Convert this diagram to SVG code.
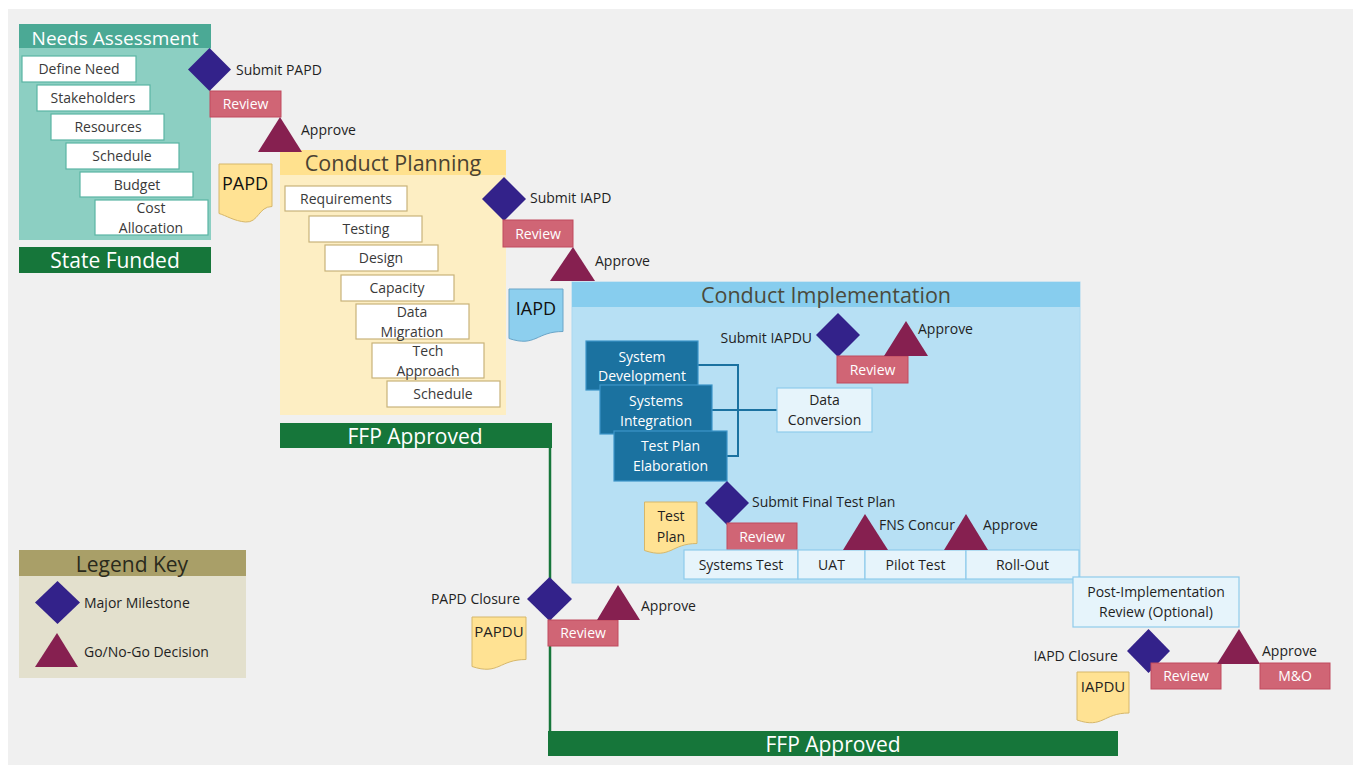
<svg xmlns="http://www.w3.org/2000/svg" width="1353" height="765" viewBox="0 0 1353 765">
  <style>
    text { font-family: "Open Sans", "Liberation Sans", sans-serif; }
    .lbl { font-size: 14px; fill: #1f1f1f; }
    .c { text-anchor: middle; }
    .r { text-anchor: end; }
    .title { font-size: 21px; }
    .ms { fill: #33228a; }
    .go { fill: #862050; }
    .review { fill: #d06575; stroke: #c04b5e; stroke-width: 1; }
    .revtxt { font-size: 14px; fill: #ffffff; text-anchor: middle; }
    .nbox { fill: #ffffff; stroke: #5ab5a3; stroke-width: 1.2; }
    .ntxt { font-size: 14px; fill: #3a3a3a; text-anchor: middle; }
    .pbox { fill: #ffffff; stroke: #c9b37a; stroke-width: 1.2; }
    .ptxt { font-size: 14px; fill: #3a3a3a; text-anchor: middle; }
    .dbox { fill: #1b72a0; stroke: #3d95c8; stroke-width: 1.2; }
    .dtxt { font-size: 14px; fill: #ffffff; text-anchor: middle; }
    .lbox { fill: #e6f4fb; stroke: #8fcbec; stroke-width: 1.2; }
    .green { fill: #16763a; }
    .gtxt { font-size: 21px; fill: #ffffff; text-anchor: middle; }
    .ydoc { fill: #ffe293; stroke: #d6b76a; stroke-width: 1; }
    .bdoc { fill: #8dcfee; stroke: #6aa5c8; stroke-width: 1; }
    .doctxt { font-size: 18px; fill: #111111; text-anchor: middle; }
    .link { fill: none; stroke: #1b72a0; stroke-width: 2; }
  </style>

  <!-- canvas -->
  <rect x="8" y="9" width="1345" height="756" fill="#f0f0f0"/>

  <!-- Needs Assessment phase -->
  <g id="needs-assessment">
    <rect x="19" y="24" width="192" height="216" fill="#8ccfc2"/>
    <rect x="19" y="24" width="192" height="24" fill="#4ba995"/>
    <text x="115" y="45" class="c" style="font-size:19px;fill:#ffffff">Needs Assessment</text>
    <rect class="nbox" x="22" y="56" width="114" height="26"/>
    <text class="ntxt" x="79" y="74">Define Need</text>
    <rect class="nbox" x="37" y="85" width="113" height="26"/>
    <text class="ntxt" x="93" y="103">Stakeholders</text>
    <rect class="nbox" x="51" y="114" width="113" height="26"/>
    <text class="ntxt" x="108" y="132">Resources</text>
    <rect class="nbox" x="66" y="143" width="113" height="26"/>
    <text class="ntxt" x="122" y="161">Schedule</text>
    <rect class="nbox" x="80" y="172" width="113" height="25"/>
    <text class="ntxt" x="137" y="190">Budget</text>
    <rect class="nbox" x="95" y="200" width="113" height="35"/>
    <text class="ntxt" x="151" y="213">Cost</text>
    <text class="ntxt" x="151" y="233">Allocation</text>
  </g>
  <g id="state-funded">
    <rect class="green" x="19" y="247" width="192" height="26"/>
    <text class="gtxt" x="115" y="268">State Funded</text>
  </g>

  <!-- Conduct Planning phase -->
  <g id="conduct-planning">
    <rect x="280" y="150" width="226" height="265" fill="#fdeec3"/>
    <rect x="280" y="150" width="226" height="25" fill="#ffe18e"/>
    <text x="393" y="171" class="c" style="font-size:21.5px;fill:#4a4232">Conduct Planning</text>
    <rect class="pbox" x="285" y="186" width="122" height="25"/>
    <text class="ptxt" x="346" y="204">Requirements</text>
    <rect class="pbox" x="309" y="216" width="113" height="26"/>
    <text class="ptxt" x="366" y="234">Testing</text>
    <rect class="pbox" x="325" y="245" width="113" height="26"/>
    <text class="ptxt" x="381" y="263">Design</text>
    <rect class="pbox" x="341" y="275" width="113" height="26"/>
    <text class="ptxt" x="397" y="293">Capacity</text>
    <rect class="pbox" x="356" y="304" width="113" height="35"/>
    <text class="ptxt" x="412" y="317">Data</text>
    <text class="ptxt" x="412" y="337">Migration</text>
    <rect class="pbox" x="372" y="343" width="112" height="35"/>
    <text class="ptxt" x="428" y="356">Tech</text>
    <text class="ptxt" x="428" y="376">Approach</text>
    <rect class="pbox" x="387" y="381" width="113" height="26"/>
    <text class="ptxt" x="443" y="399">Schedule</text>
  </g>
  <g id="ffp-approved-planning">
    <rect class="green" x="280" y="423" width="272" height="25"/>
    <text class="gtxt" x="415" y="444">FFP Approved</text>
  </g>

  <!-- Conduct Implementation phase -->
  <g id="conduct-implementation">
    <rect x="572" y="282" width="508" height="301" fill="#b7e0f4" stroke="#a9d8f0" stroke-width="1"/>
    <rect x="572" y="282" width="508" height="25" fill="#87cdee"/>
    <text x="826" y="303" class="c" style="font-size:21.5px;fill:#4a4a3c">Conduct Implementation</text>
  </g>

  <!-- connectors -->
  <g id="connectors">
    <path d="M550 447 V731" fill="none" stroke="#16763a" stroke-width="2.5"/>
    <path class="link" d="M698 365 H738 V456 H727"/>
    <path class="link" d="M712 410 H777"/>
  </g>

  <!-- PAPD gate -->
  <g id="submit-papd">
    <polygon class="ms" points="209.5,48 231,69.5 209.5,91 188,69.5"/>
    <text class="lbl" x="236" y="75">Submit PAPD</text>
  </g>
  <g id="review-papd">
    <rect class="review" x="210" y="91" width="71" height="26"/>
    <text class="revtxt" x="245.5" y="109">Review</text>
  </g>
  <g id="approve-papd">
    <polygon class="go" points="280,117 302,152 258,152"/>
    <text class="lbl" x="301" y="135">Approve</text>
  </g>
  <g id="papd-doc">
    <path class="ydoc" d="M219 164 H272 V206.5 C258.5 206.5 258.5 223 245.5 222 C234 221 226 215.5 219 213.5 Z"/>
    <text class="doctxt" x="245" y="190">PAPD</text>
  </g>

  <!-- IAPD gate -->
  <g id="submit-iapd">
    <polygon class="ms" points="504,177 526,199 504,221 482,199"/>
    <text class="lbl" x="530" y="203">Submit IAPD</text>
  </g>
  <g id="review-iapd">
    <rect class="review" x="503" y="220" width="70" height="27"/>
    <text class="revtxt" x="538" y="239">Review</text>
  </g>
  <g id="approve-iapd">
    <polygon class="go" points="573,247 595,281 550,281"/>
    <text class="lbl" x="595" y="266">Approve</text>
  </g>
  <g id="iapd-doc">
    <path class="bdoc" d="M509 289 H563 V331.5 C536 331.5 536 347.5 509 338.5 Z"/>
    <text class="doctxt" x="536" y="315">IAPD</text>
  </g>

  <!-- implementation steps -->
  <g id="submit-iapdu">
    <polygon class="ms" points="838,313 860,335 838,357 816,335"/>
    <text class="lbl r" x="812" y="343">Submit IAPDU</text>
  </g>
  <g id="review-iapdu">
    <rect class="review" x="837" y="356" width="71" height="27"/>
    <text class="revtxt" x="872.5" y="375">Review</text>
  </g>
  <g id="approve-iapdu">
    <polygon class="go" points="906,321 928,356 884,356"/>
    <text class="lbl" x="918" y="334">Approve</text>
  </g>
  <g id="system-development">
    <rect class="dbox" x="586" y="341" width="112" height="49"/>
    <text class="dtxt" x="642" y="362">System</text>
    <text class="dtxt" x="642" y="381">Development</text>
  </g>
  <g id="systems-integration">
    <rect class="dbox" x="600" y="385" width="112" height="49"/>
    <text class="dtxt" x="656" y="406">Systems</text>
    <text class="dtxt" x="656" y="426">Integration</text>
  </g>
  <g id="test-plan-elaboration">
    <rect class="dbox" x="614" y="431" width="113" height="50"/>
    <text class="dtxt" x="670.5" y="451">Test Plan</text>
    <text class="dtxt" x="670.5" y="471">Elaboration</text>
  </g>
  <g id="data-conversion">
    <rect class="lbox" x="777" y="388" width="95" height="44"/>
    <text class="lbl c" x="824.5" y="405">Data</text>
    <text class="lbl c" x="824.5" y="425">Conversion</text>
  </g>
  <g id="submit-final-test-plan">
    <polygon class="ms" points="727,481 749,503 727,525 705,503"/>
    <text class="lbl" x="752" y="507">Submit Final Test Plan</text>
  </g>
  <g id="test-plan-doc">
    <path class="ydoc" d="M644.5 502 H697 V543.5 C671 543.5 671 559.5 644.5 550.5 Z"/>
    <text class="lbl c" x="671" y="521">Test</text>
    <text class="lbl c" x="671" y="542">Plan</text>
  </g>
  <g id="review-test-plan">
    <rect class="review" x="727" y="523" width="70" height="27"/>
    <text class="revtxt" x="762" y="542">Review</text>
  </g>
  <g id="test-stages">
    <rect class="lbox" x="684" y="550" width="114" height="29"/>
    <text class="lbl c" x="741" y="570">Systems Test</text>
    <rect class="lbox" x="798" y="550" width="67" height="29"/>
    <text class="lbl c" x="831.5" y="570">UAT</text>
    <rect class="lbox" x="865" y="550" width="101" height="29"/>
    <text class="lbl c" x="915.5" y="570">Pilot Test</text>
    <rect class="lbox" x="966" y="550" width="113" height="29"/>
    <text class="lbl c" x="1022.5" y="570">Roll-Out</text>
  </g>
  <g id="fns-concur">
    <polygon class="go" points="865,514 888,550 843,550"/>
    <text class="lbl" x="879" y="530">FNS Concur</text>
  </g>
  <g id="approve-rollout">
    <polygon class="go" points="966,514 988,550 944,550"/>
    <text class="lbl" x="983" y="530">Approve</text>
  </g>

  <!-- PAPD closure -->
  <g id="papd-closure">
    <polygon class="ms" points="549.5,577 572,599 549.5,621 527,599"/>
    <text class="lbl r" x="520" y="604">PAPD Closure</text>
  </g>
  <g id="review-papdu">
    <rect class="review" x="548" y="620" width="70" height="26"/>
    <text class="revtxt" x="583" y="638">Review</text>
  </g>
  <g id="approve-papdu">
    <polygon class="go" points="618,585 640,620 597,620"/>
    <text class="lbl" x="641" y="611">Approve</text>
  </g>
  <g id="papdu-doc">
    <path class="ydoc" d="M472 617 H526 V659.5 C499 659.5 499 675.5 472 666.5 Z"/>
    <text class="lbl c" x="499" y="637" style="font-size:15px">PAPDU</text>
  </g>
  <g id="ffp-approved-implementation">
    <rect class="green" x="548" y="731" width="570" height="25"/>
    <text class="gtxt" x="833" y="752">FFP Approved</text>
  </g>

  <!-- Post-implementation and IAPD closure -->
  <g id="post-implementation-review">
    <rect class="lbox" x="1073" y="577" width="166" height="50"/>
    <text class="lbl c" x="1156" y="597">Post-Implementation</text>
    <text class="lbl c" x="1156" y="617">Review (Optional)</text>
  </g>
  <g id="iapd-closure">
    <polygon class="ms" points="1148.5,629 1170,651 1148.5,673 1127,651"/>
    <text class="lbl r" x="1118" y="661">IAPD Closure</text>
  </g>
  <g id="review-iapd-closure">
    <rect class="review" x="1151" y="663" width="70" height="26"/>
    <text class="revtxt" x="1186" y="681">Review</text>
  </g>
  <g id="approve-mo">
    <polygon class="go" points="1239,629 1260,664 1217,664"/>
    <text class="lbl" x="1262" y="656">Approve</text>
  </g>
  <g id="m-and-o">
    <rect class="review" x="1260" y="663" width="70" height="26"/>
    <text class="revtxt" x="1295" y="681">M&amp;O</text>
  </g>
  <g id="iapdu-doc">
    <path class="ydoc" d="M1077 672 H1129 V713 C1103 713 1103 729 1077 720 Z"/>
    <text class="lbl c" x="1103" y="692" style="font-size:15px">IAPDU</text>
  </g>

  <!-- Legend -->
  <g id="legend">
    <rect x="19" y="550" width="227" height="128" fill="#e3e0cd"/>
    <rect x="19" y="550" width="227" height="26" fill="#a99f68"/>
    <text x="132" y="572" class="c title" style="fill:#2a2a1c">Legend Key</text>
    <polygon class="ms" points="57.5,581 80,602.5 57.5,624 35,602.5"/>
    <text class="lbl" x="84" y="608">Major Milestone</text>
    <polygon class="go" points="57,633 78,667 35,667"/>
    <text class="lbl" x="84" y="657">Go/No-Go Decision</text>
  </g>
</svg>
